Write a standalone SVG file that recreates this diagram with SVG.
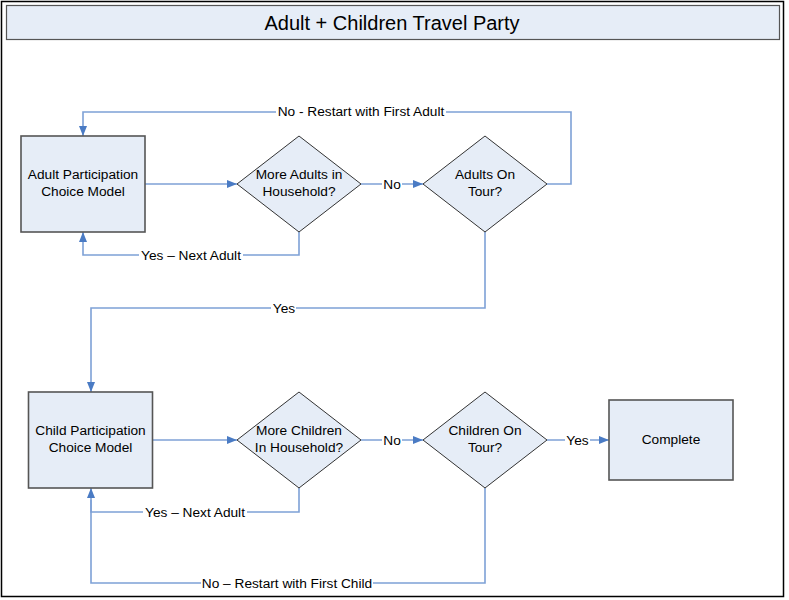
<svg xmlns="http://www.w3.org/2000/svg" width="789" height="600" viewBox="0 0 789 600">
<defs>
<style>
text{font-family:"Liberation Sans",Arial,sans-serif;font-size:13.7px;fill:#000;text-anchor:middle}
.box{fill:#e6edf7;stroke:#555;stroke-width:1.6}
.dia{fill:#e6edf7;stroke:#333;stroke-width:1}
.con{fill:none;stroke:#7ea1d6;stroke-width:1.6}
.arr{fill:none;stroke:#7ea1d6;stroke-width:1.6;marker-end:url(#ah)}
.lbg{fill:#fff}
</style>
<marker id="ah" markerWidth="10" markerHeight="8" refX="10" refY="4" orient="auto" markerUnits="userSpaceOnUse">
<path d="M0,0 L10,4 L0,8 Z" fill="#4a7bc4"/>
</marker>
</defs>
<rect x="0" y="0" width="789" height="600" fill="#fff"/>
<rect x="1.5" y="1.5" width="782" height="595" fill="none" stroke="#000" stroke-width="1.5"/>
<g id="title">
<rect x="6.5" y="5.5" width="773" height="34" fill="#e6edf7" stroke="#555" stroke-width="1.2"/>
<text x="392" y="29.5" style="font-size:20px">Adult + Children Travel Party</text>
</g>
<g id="connectors">
<path class="arr" d="M145,184 H237"/>
<path class="arr" d="M361,184 H423"/>
<path class="arr" d="M547,184 H571 V112 H83 V136"/>
<path class="arr" d="M299,232 V255 H83 V232"/>
<path class="arr" d="M485,232 V308 H91 V392"/>
<path class="arr" d="M153,440 H237"/>
<path class="arr" d="M361,440 H423"/>
<path class="arr" d="M547,440 H609"/>
<path class="arr" d="M299,488 V512 H91 V488"/>
<path class="con" d="M485,488 V583 H91 V500"/>
<rect class="lbg" x="276" y="104" width="170" height="15"/>
<text x="361" y="116">No - Restart with First Adult</text>
<rect class="lbg" x="139" y="247" width="104" height="15"/>
<text x="191" y="259.5">Yes – Next Adult</text>
<rect class="lbg" x="382" y="177" width="20" height="15"/>
<text x="392" y="188.5">No</text>
<rect class="lbg" x="271" y="300" width="25" height="15"/>
<text x="284" y="312.5">Yes</text>
<rect class="lbg" x="382" y="433" width="20" height="15"/>
<text x="392" y="444.5">No</text>
<rect class="lbg" x="565" y="433" width="25" height="15"/>
<text x="577.5" y="444.5">Yes</text>
<rect class="lbg" x="143" y="504" width="104" height="15"/>
<text x="195" y="516.5">Yes – Next Adult</text>
<rect class="lbg" x="201" y="575" width="172" height="15"/>
<text x="287" y="587.5">No – Restart with First Child</text>
</g>
<g id="adult-model">
<rect class="box" x="21" y="136" width="124" height="96"/>
<text x="83" y="178.5">Adult Participation</text>
<text x="83" y="195.5">Choice Model</text>
</g>
<g id="more-adults">
<polygon class="dia" points="299,136 361,184 299,232 237,184"/>
<text x="299" y="178.5">More Adults in</text>
<text x="299" y="195.5">Household?</text>
</g>
<g id="adults-on-tour">
<polygon class="dia" points="485,136 547,184 485,232 423,184"/>
<text x="485" y="178.5">Adults On</text>
<text x="485" y="195.5">Tour?</text>
</g>
<g id="child-model">
<rect class="box" x="28.5" y="392" width="124" height="96"/>
<text x="90.5" y="434.5">Child Participation</text>
<text x="90.5" y="451.5">Choice Model</text>
</g>
<g id="more-children">
<polygon class="dia" points="299,392 361,440 299,488 237,440"/>
<text x="299" y="434.5">More Children</text>
<text x="299" y="451.5">In Household?</text>
</g>
<g id="children-on-tour">
<polygon class="dia" points="485,392 547,440 485,488 423,440"/>
<text x="485" y="434.5">Children On</text>
<text x="485" y="451.5">Tour?</text>
</g>
<g id="complete">
<rect class="box" x="609" y="400" width="124" height="80"/>
<text x="671" y="443.5">Complete</text>
</g>
</svg>
